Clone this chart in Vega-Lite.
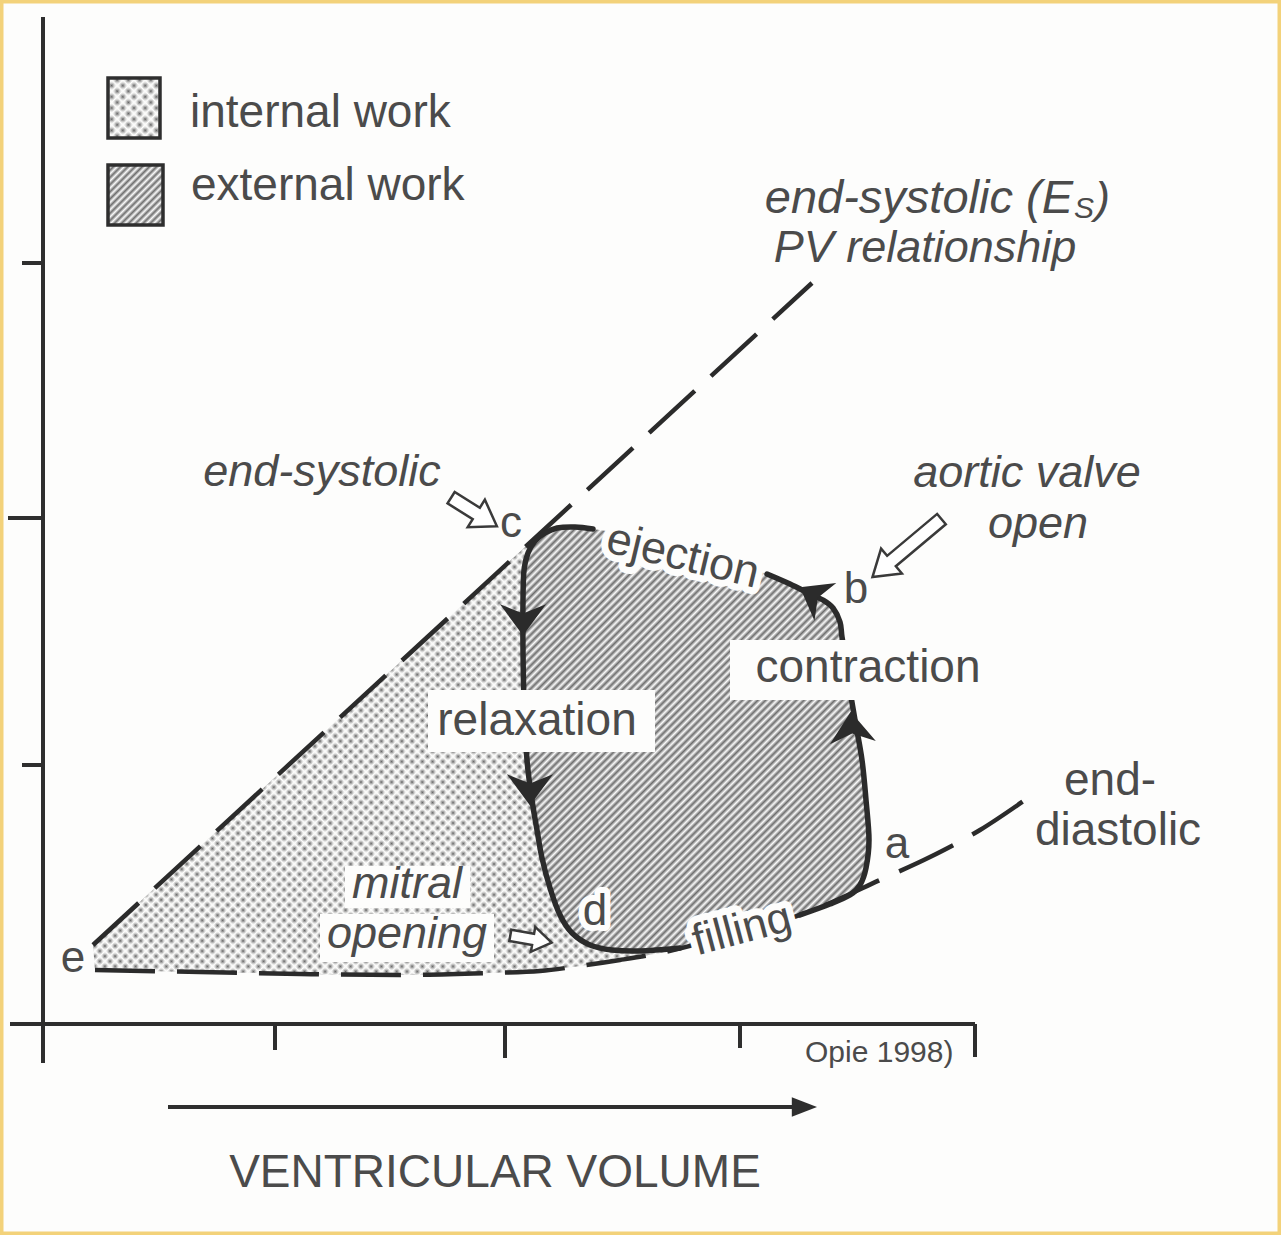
{
  "$schema": "https://vega.github.io/schema/vega-lite/v6.json",
  "width": 1281,
  "height": 1235,
  "padding": 0,
  "autosize": {"type": "none"},
  "background": "#fdfdfc",
  "config": {
    "view": {"stroke": "#f3d27a", "strokeWidth": 7},
    "text": {"font": "Liberation Sans", "color": "#4b4b4b"}
  },
  "datasets": {
    "internal": [
      {"i":0,"v":48,"p":80},{"i":1,"v":490,"p":487},{"i":2,"v":483,"p":472},{"i":3,"v":479,"p":455},{"i":4,"v":478,"p":425},{"i":5,"v":478,"p":375},{"i":6,"v":479,"p":325},{"i":7,"v":482,"p":265},{"i":8,"v":487,"p":225},{"i":9,"v":492,"p":195},{"i":10,"v":497,"p":167},{"i":11,"v":505,"p":137},{"i":12,"v":515,"p":110},{"i":13,"v":527,"p":92},{"i":14,"v":545,"p":80},{"i":15,"v":567,"p":75},{"i":16,"v":595,"p":74},{"i":17,"v":635,"p":77},{"i":18,"v":615,"p":72},{"i":19,"v":575,"p":65},{"i":20,"v":535,"p":59},{"i":21,"v":495,"p":54},{"i":22,"v":445,"p":52},{"i":23,"v":355,"p":50},{"i":24,"v":255,"p":51},{"i":25,"v":155,"p":53},{"i":26,"v":50,"p":55}
    ],
    "external": [
      {"i":0,"v":548,"p":496},{"i":1,"v":575,"p":492},{"i":2,"v":615,"p":482},{"i":3,"v":655,"p":470},{"i":4,"v":695,"p":459},{"i":5,"v":722,"p":451},{"i":6,"v":745,"p":441},{"i":7,"v":765,"p":431},{"i":8,"v":778,"p":425},{"i":9,"v":788,"p":417},{"i":10,"v":795,"p":403},{"i":11,"v":797,"p":388},{"i":12,"v":801,"p":365},{"i":13,"v":805,"p":335},{"i":14,"v":810,"p":305},{"i":15,"v":817,"p":265},{"i":16,"v":821,"p":225},{"i":17,"v":824,"p":185},{"i":18,"v":821,"p":157},{"i":19,"v":815,"p":140},{"i":20,"v":805,"p":130},{"i":21,"v":785,"p":121},{"i":22,"v":755,"p":110},{"i":23,"v":715,"p":97},{"i":24,"v":675,"p":87},{"i":25,"v":635,"p":77},{"i":26,"v":595,"p":74},{"i":27,"v":567,"p":75},{"i":28,"v":545,"p":80},{"i":29,"v":527,"p":92},{"i":30,"v":515,"p":110},{"i":31,"v":505,"p":137},{"i":32,"v":497,"p":167},{"i":33,"v":492,"p":195},{"i":34,"v":487,"p":225},{"i":35,"v":482,"p":265},{"i":36,"v":479,"p":325},{"i":37,"v":478,"p":375},{"i":38,"v":478,"p":425},{"i":39,"v":479,"p":455},{"i":40,"v":483,"p":472},{"i":41,"v":490,"p":484},{"i":42,"v":500,"p":492},{"i":43,"v":512,"p":497},{"i":44,"v":530,"p":498}
    ],
    "loop": [
      {"seg":"s1","i":0,"v":722,"p":451},{"seg":"s1","i":1,"v":745,"p":441},{"seg":"s1","i":2,"v":765,"p":431},{"seg":"s1","i":3,"v":778,"p":425},{"seg":"s1","i":4,"v":788,"p":417},{"seg":"s1","i":5,"v":795,"p":403},{"seg":"s1","i":6,"v":797,"p":388},{"seg":"s1","i":7,"v":801,"p":365},{"seg":"s1","i":8,"v":805,"p":335},{"seg":"s1","i":9,"v":810,"p":305},{"seg":"s1","i":10,"v":817,"p":265},{"seg":"s1","i":11,"v":821,"p":225},{"seg":"s1","i":12,"v":824,"p":185},{"seg":"s1","i":13,"v":821,"p":157},{"seg":"s1","i":14,"v":815,"p":140},{"seg":"s1","i":15,"v":805,"p":130},{"seg":"s1","i":16,"v":785,"p":121},{"seg":"s1","i":17,"v":755,"p":110},
      {"seg":"s2","i":20,"v":635,"p":77},{"seg":"s2","i":21,"v":595,"p":74},{"seg":"s2","i":22,"v":567,"p":75},{"seg":"s2","i":23,"v":545,"p":80},{"seg":"s2","i":24,"v":527,"p":92},{"seg":"s2","i":25,"v":515,"p":110},{"seg":"s2","i":26,"v":505,"p":137},{"seg":"s2","i":27,"v":497,"p":167},{"seg":"s2","i":28,"v":492,"p":195},{"seg":"s2","i":29,"v":487,"p":225},{"seg":"s2","i":30,"v":482,"p":265},{"seg":"s2","i":31,"v":479,"p":325},{"seg":"s2","i":32,"v":478,"p":375},{"seg":"s2","i":33,"v":478,"p":425},{"seg":"s2","i":34,"v":479,"p":455},{"seg":"s2","i":35,"v":483,"p":472},{"seg":"s2","i":36,"v":490,"p":484},{"seg":"s2","i":37,"v":500,"p":492},{"seg":"s2","i":38,"v":512,"p":497},{"seg":"s2","i":39,"v":530,"p":498},{"seg":"s2","i":40,"v":548,"p":496}
    ],
    "espvr": [{"v":48,"p":80},{"v":767,"p":742}],
    "edpvr": [
      {"v":50,"p":55},{"v":155,"p":53},{"v":255,"p":51},{"v":355,"p":50},{"v":445,"p":52},{"v":495,"p":54},{"v":535,"p":59},{"v":575,"p":65},{"v":615,"p":72},{"v":675,"p":87},{"v":735,"p":103},{"v":785,"p":122},{"v":835,"p":145},{"v":885,"p":168},{"v":935,"p":195},{"v":980,"p":225}
    ],
    "axes": [
      {"v":-2,"p":1008,"v2":-2,"p2":-38},
      {"v":-23,"p":762,"v2":-2,"p2":762},
      {"v":-37,"p":507,"v2":-2,"p2":507},
      {"v":-23,"p":260,"v2":-2,"p2":260},
      {"v":-35,"p":1,"v2":930,"p2":1},
      {"v":230,"p":1,"v2":230,"p2":-25},
      {"v":460,"p":1,"v2":460,"p2":-33},
      {"v":695,"p":1,"v2":695,"p2":-23},
      {"v":930,"p":1,"v2":930,"p2":-32},
      {"v":123,"p":-82,"v2":752,"p2":-82}
    ],
    "boxes": [
      {"v":383,"v2":610,"p":335,"p2":273},
      {"v":685,"v2":947,"p":385,"p2":325},
      {"v":300,"v2":425,"p":159,"p2":117},
      {"v":275,"v2":449,"p":111,"p2":63}
    ],
    "legDot": [{"v":63,"v2":115,"p":947,"p2":887}],
    "legHatch": [{"v":63,"v2":118,"p":860,"p2":800}],
    "arrDown": [{"v":478,"p":408},{"v":485,"p":238}],
    "arrUp": [{"v":807,"p":295}],
    "arrB": [{"v":770,"p":429}],
    "arrVol": [{"v":758,"p":-82}],
    "hES": [{"v":429,"p":513}],
    "hAV": [{"v":862,"p":477}],
    "hMO": [{"v":486,"p":86}],
    "tLegend": [{"t":"internal work","v":145,"p":898},{"t":"external work","v":146,"p":825}],
    "tUp": [{"t":"contraction","v":823,"p":343},{"t":"relaxation","v":492,"p":290},{"t":"end-","v":1065,"p":230},{"t":"diastolic","v":1073,"p":180},{"t":"VENTRICULAR VOLUME","v":450,"p":-162}],
    "tLetters": [{"t":"c","v":466,"p":488},{"t":"b","v":811,"p":422},{"t":"a","v":852,"p":167},{"t":"d","v":550,"p":100},{"t":"e","v":28,"p":53}],
    "tItal": [{"t":"PV relationship","v":880,"p":763},{"t":"end-systolic","v":277,"p":539},{"t":"aortic valve","v":982,"p":538},{"t":"open","v":993,"p":487},{"t":"mitral","v":362,"p":127},{"t":"opening","v":362,"p":77}],
    "tEs": [{"t":"end-systolic (E","v":1028,"p":812}],
    "tSub": [{"t":"S","v":1029,"p":807}],
    "tParen": [{"t":")","v":1050,"p":812}],
    "tEject": [{"t":"ejection","v":638,"p":469}],
    "tFill": [{"t":"filling","v":697,"p":95}],
    "tD": [{"t":"d","v":550,"p":100}],
    "tOpie": [{"t":"Opie 1998)","v":760,"p":-37}]
  },
  "encoding": {
    "x": {"field": "v", "type": "quantitative", "axis": null, "scale": {"domain": [-45, 1236], "nice": false, "zero": false}},
    "y": {"field": "p", "type": "quantitative", "axis": null, "scale": {"domain": [-210, 1025], "nice": false, "zero": false}}
  },
  "layer": [
    {"data": {"name": "internal"}, "mark": {"type": "line", "strokeOpacity": 0, "interpolate": "linear-closed", "fill": {"gradient": "linear", "x1": 0, "y1": 0, "x2": 1.1224, "y2": 0.8356, "stops": [
{"offset":0,"color":"rgba(100,100,100,1)"},{"offset":0.005,"color":"rgba(100,100,100,0)"},{"offset":0.01,"color":"rgba(100,100,100,1)"},{"offset":0.015,"color":"rgba(100,100,100,0)"},{"offset":0.02,"color":"rgba(100,100,100,1)"},{"offset":0.025,"color":"rgba(100,100,100,0)"},{"offset":0.03,"color":"rgba(100,100,100,1)"},{"offset":0.035,"color":"rgba(100,100,100,0)"},{"offset":0.04,"color":"rgba(100,100,100,1)"},{"offset":0.045,"color":"rgba(100,100,100,0)"},{"offset":0.05,"color":"rgba(100,100,100,1)"},{"offset":0.055,"color":"rgba(100,100,100,0)"},{"offset":0.06,"color":"rgba(100,100,100,1)"},{"offset":0.065,"color":"rgba(100,100,100,0)"},{"offset":0.07,"color":"rgba(100,100,100,1)"},{"offset":0.075,"color":"rgba(100,100,100,0)"},{"offset":0.08,"color":"rgba(100,100,100,1)"},{"offset":0.085,"color":"rgba(100,100,100,0)"},{"offset":0.09,"color":"rgba(100,100,100,1)"},{"offset":0.095,"color":"rgba(100,100,100,0)"},
{"offset":0.1,"color":"rgba(100,100,100,1)"},{"offset":0.105,"color":"rgba(100,100,100,0)"},{"offset":0.11,"color":"rgba(100,100,100,1)"},{"offset":0.115,"color":"rgba(100,100,100,0)"},{"offset":0.12,"color":"rgba(100,100,100,1)"},{"offset":0.125,"color":"rgba(100,100,100,0)"},{"offset":0.13,"color":"rgba(100,100,100,1)"},{"offset":0.135,"color":"rgba(100,100,100,0)"},{"offset":0.14,"color":"rgba(100,100,100,1)"},{"offset":0.145,"color":"rgba(100,100,100,0)"},{"offset":0.15,"color":"rgba(100,100,100,1)"},{"offset":0.155,"color":"rgba(100,100,100,0)"},{"offset":0.16,"color":"rgba(100,100,100,1)"},{"offset":0.165,"color":"rgba(100,100,100,0)"},{"offset":0.17,"color":"rgba(100,100,100,1)"},{"offset":0.175,"color":"rgba(100,100,100,0)"},{"offset":0.18,"color":"rgba(100,100,100,1)"},{"offset":0.185,"color":"rgba(100,100,100,0)"},{"offset":0.19,"color":"rgba(100,100,100,1)"},{"offset":0.195,"color":"rgba(100,100,100,0)"},
{"offset":0.2,"color":"rgba(100,100,100,1)"},{"offset":0.205,"color":"rgba(100,100,100,0)"},{"offset":0.21,"color":"rgba(100,100,100,1)"},{"offset":0.215,"color":"rgba(100,100,100,0)"},{"offset":0.22,"color":"rgba(100,100,100,1)"},{"offset":0.225,"color":"rgba(100,100,100,0)"},{"offset":0.23,"color":"rgba(100,100,100,1)"},{"offset":0.235,"color":"rgba(100,100,100,0)"},{"offset":0.24,"color":"rgba(100,100,100,1)"},{"offset":0.245,"color":"rgba(100,100,100,0)"},{"offset":0.25,"color":"rgba(100,100,100,1)"},{"offset":0.255,"color":"rgba(100,100,100,0)"},{"offset":0.26,"color":"rgba(100,100,100,1)"},{"offset":0.265,"color":"rgba(100,100,100,0)"},{"offset":0.27,"color":"rgba(100,100,100,1)"},{"offset":0.275,"color":"rgba(100,100,100,0)"},{"offset":0.28,"color":"rgba(100,100,100,1)"},{"offset":0.285,"color":"rgba(100,100,100,0)"},{"offset":0.29,"color":"rgba(100,100,100,1)"},{"offset":0.295,"color":"rgba(100,100,100,0)"},
{"offset":0.3,"color":"rgba(100,100,100,1)"},{"offset":0.305,"color":"rgba(100,100,100,0)"},{"offset":0.31,"color":"rgba(100,100,100,1)"},{"offset":0.315,"color":"rgba(100,100,100,0)"},{"offset":0.32,"color":"rgba(100,100,100,1)"},{"offset":0.325,"color":"rgba(100,100,100,0)"},{"offset":0.33,"color":"rgba(100,100,100,1)"},{"offset":0.335,"color":"rgba(100,100,100,0)"},{"offset":0.34,"color":"rgba(100,100,100,1)"},{"offset":0.345,"color":"rgba(100,100,100,0)"},{"offset":0.35,"color":"rgba(100,100,100,1)"},{"offset":0.355,"color":"rgba(100,100,100,0)"},{"offset":0.36,"color":"rgba(100,100,100,1)"},{"offset":0.365,"color":"rgba(100,100,100,0)"},{"offset":0.37,"color":"rgba(100,100,100,1)"},{"offset":0.375,"color":"rgba(100,100,100,0)"},{"offset":0.38,"color":"rgba(100,100,100,1)"},{"offset":0.385,"color":"rgba(100,100,100,0)"},{"offset":0.39,"color":"rgba(100,100,100,1)"},{"offset":0.395,"color":"rgba(100,100,100,0)"},
{"offset":0.4,"color":"rgba(100,100,100,1)"},{"offset":0.405,"color":"rgba(100,100,100,0)"},{"offset":0.41,"color":"rgba(100,100,100,1)"},{"offset":0.415,"color":"rgba(100,100,100,0)"},{"offset":0.42,"color":"rgba(100,100,100,1)"},{"offset":0.425,"color":"rgba(100,100,100,0)"},{"offset":0.43,"color":"rgba(100,100,100,1)"},{"offset":0.435,"color":"rgba(100,100,100,0)"},{"offset":0.44,"color":"rgba(100,100,100,1)"},{"offset":0.445,"color":"rgba(100,100,100,0)"},{"offset":0.45,"color":"rgba(100,100,100,1)"},{"offset":0.455,"color":"rgba(100,100,100,0)"},{"offset":0.46,"color":"rgba(100,100,100,1)"},{"offset":0.465,"color":"rgba(100,100,100,0)"},{"offset":0.47,"color":"rgba(100,100,100,1)"},{"offset":0.475,"color":"rgba(100,100,100,0)"},{"offset":0.48,"color":"rgba(100,100,100,1)"},{"offset":0.485,"color":"rgba(100,100,100,0)"},{"offset":0.49,"color":"rgba(100,100,100,1)"},{"offset":0.495,"color":"rgba(100,100,100,0)"},
{"offset":0.5,"color":"rgba(100,100,100,1)"},{"offset":0.505,"color":"rgba(100,100,100,0)"},{"offset":0.51,"color":"rgba(100,100,100,1)"},{"offset":0.515,"color":"rgba(100,100,100,0)"},{"offset":0.52,"color":"rgba(100,100,100,1)"},{"offset":0.525,"color":"rgba(100,100,100,0)"},{"offset":0.53,"color":"rgba(100,100,100,1)"},{"offset":0.535,"color":"rgba(100,100,100,0)"},{"offset":0.54,"color":"rgba(100,100,100,1)"},{"offset":0.545,"color":"rgba(100,100,100,0)"},{"offset":0.55,"color":"rgba(100,100,100,1)"},{"offset":0.555,"color":"rgba(100,100,100,0)"},{"offset":0.56,"color":"rgba(100,100,100,1)"},{"offset":0.565,"color":"rgba(100,100,100,0)"},{"offset":0.57,"color":"rgba(100,100,100,1)"},{"offset":0.575,"color":"rgba(100,100,100,0)"},{"offset":0.58,"color":"rgba(100,100,100,1)"},{"offset":0.585,"color":"rgba(100,100,100,0)"},{"offset":0.59,"color":"rgba(100,100,100,1)"},{"offset":0.595,"color":"rgba(100,100,100,0)"},
{"offset":0.6,"color":"rgba(100,100,100,1)"},{"offset":0.605,"color":"rgba(100,100,100,0)"},{"offset":0.61,"color":"rgba(100,100,100,1)"},{"offset":0.615,"color":"rgba(100,100,100,0)"},{"offset":0.62,"color":"rgba(100,100,100,1)"},{"offset":0.625,"color":"rgba(100,100,100,0)"},{"offset":0.63,"color":"rgba(100,100,100,1)"},{"offset":0.635,"color":"rgba(100,100,100,0)"},{"offset":0.64,"color":"rgba(100,100,100,1)"},{"offset":0.645,"color":"rgba(100,100,100,0)"},{"offset":0.65,"color":"rgba(100,100,100,1)"},{"offset":0.655,"color":"rgba(100,100,100,0)"},{"offset":0.66,"color":"rgba(100,100,100,1)"},{"offset":0.665,"color":"rgba(100,100,100,0)"},{"offset":0.67,"color":"rgba(100,100,100,1)"},{"offset":0.675,"color":"rgba(100,100,100,0)"},{"offset":0.68,"color":"rgba(100,100,100,1)"},{"offset":0.685,"color":"rgba(100,100,100,0)"},{"offset":0.69,"color":"rgba(100,100,100,1)"},{"offset":0.695,"color":"rgba(100,100,100,0)"},
{"offset":0.7,"color":"rgba(100,100,100,1)"},{"offset":0.705,"color":"rgba(100,100,100,0)"},{"offset":0.71,"color":"rgba(100,100,100,1)"},{"offset":0.715,"color":"rgba(100,100,100,0)"},{"offset":0.72,"color":"rgba(100,100,100,1)"},{"offset":0.725,"color":"rgba(100,100,100,0)"},{"offset":0.73,"color":"rgba(100,100,100,1)"},{"offset":0.735,"color":"rgba(100,100,100,0)"},{"offset":0.74,"color":"rgba(100,100,100,1)"},{"offset":0.745,"color":"rgba(100,100,100,0)"},{"offset":0.75,"color":"rgba(100,100,100,1)"},{"offset":0.755,"color":"rgba(100,100,100,0)"},{"offset":0.76,"color":"rgba(100,100,100,1)"},{"offset":0.765,"color":"rgba(100,100,100,0)"},{"offset":0.77,"color":"rgba(100,100,100,1)"},{"offset":0.775,"color":"rgba(100,100,100,0)"},{"offset":0.78,"color":"rgba(100,100,100,1)"},{"offset":0.785,"color":"rgba(100,100,100,0)"},{"offset":0.79,"color":"rgba(100,100,100,1)"},{"offset":0.795,"color":"rgba(100,100,100,0)"},
{"offset":0.8,"color":"rgba(100,100,100,1)"},{"offset":0.805,"color":"rgba(100,100,100,0)"},{"offset":0.81,"color":"rgba(100,100,100,1)"},{"offset":0.815,"color":"rgba(100,100,100,0)"},{"offset":0.82,"color":"rgba(100,100,100,1)"},{"offset":0.825,"color":"rgba(100,100,100,0)"},{"offset":0.83,"color":"rgba(100,100,100,1)"},{"offset":0.835,"color":"rgba(100,100,100,0)"},{"offset":0.84,"color":"rgba(100,100,100,1)"},{"offset":0.845,"color":"rgba(100,100,100,0)"},{"offset":0.85,"color":"rgba(100,100,100,1)"},{"offset":0.855,"color":"rgba(100,100,100,0)"},{"offset":0.86,"color":"rgba(100,100,100,1)"},{"offset":0.865,"color":"rgba(100,100,100,0)"},{"offset":0.87,"color":"rgba(100,100,100,1)"},{"offset":0.875,"color":"rgba(100,100,100,0)"},{"offset":0.88,"color":"rgba(100,100,100,1)"},{"offset":0.885,"color":"rgba(100,100,100,0)"},{"offset":0.89,"color":"rgba(100,100,100,1)"},{"offset":0.895,"color":"rgba(100,100,100,0)"},
{"offset":0.9,"color":"rgba(100,100,100,1)"},{"offset":0.905,"color":"rgba(100,100,100,0)"},{"offset":0.91,"color":"rgba(100,100,100,1)"},{"offset":0.915,"color":"rgba(100,100,100,0)"},{"offset":0.92,"color":"rgba(100,100,100,1)"},{"offset":0.925,"color":"rgba(100,100,100,0)"},{"offset":0.93,"color":"rgba(100,100,100,1)"},{"offset":0.935,"color":"rgba(100,100,100,0)"},{"offset":0.94,"color":"rgba(100,100,100,1)"},{"offset":0.945,"color":"rgba(100,100,100,0)"},{"offset":0.95,"color":"rgba(100,100,100,1)"},{"offset":0.955,"color":"rgba(100,100,100,0)"},{"offset":0.96,"color":"rgba(100,100,100,1)"},{"offset":0.965,"color":"rgba(100,100,100,0)"},{"offset":0.97,"color":"rgba(100,100,100,1)"},{"offset":0.975,"color":"rgba(100,100,100,0)"},{"offset":0.98,"color":"rgba(100,100,100,1)"},{"offset":0.985,"color":"rgba(100,100,100,0)"},{"offset":0.99,"color":"rgba(100,100,100,1)"},{"offset":0.995,"color":"rgba(100,100,100,0)"},{"offset":1,"color":"rgba(100,100,100,1)"}
    ]}}, "encoding": {"order": {"field": "i", "type": "quantitative"}}},
    {"data": {"name": "internal"}, "mark": {"type": "line", "strokeOpacity": 0, "interpolate": "linear-closed", "fill": {"gradient": "linear", "x1": 0, "y1": 1, "x2": 1.1224, "y2": 0.1644, "stops": [
{"offset":0,"color":"rgba(253,253,252,0)"},{"offset":0.005,"color":"#fdfdfc"},{"offset":0.01,"color":"rgba(253,253,252,0)"},{"offset":0.015,"color":"#fdfdfc"},{"offset":0.02,"color":"rgba(253,253,252,0)"},{"offset":0.025,"color":"#fdfdfc"},{"offset":0.03,"color":"rgba(253,253,252,0)"},{"offset":0.035,"color":"#fdfdfc"},{"offset":0.04,"color":"rgba(253,253,252,0)"},{"offset":0.045,"color":"#fdfdfc"},{"offset":0.05,"color":"rgba(253,253,252,0)"},{"offset":0.055,"color":"#fdfdfc"},{"offset":0.06,"color":"rgba(253,253,252,0)"},{"offset":0.065,"color":"#fdfdfc"},{"offset":0.07,"color":"rgba(253,253,252,0)"},{"offset":0.075,"color":"#fdfdfc"},{"offset":0.08,"color":"rgba(253,253,252,0)"},{"offset":0.085,"color":"#fdfdfc"},{"offset":0.09,"color":"rgba(253,253,252,0)"},{"offset":0.095,"color":"#fdfdfc"},
{"offset":0.1,"color":"rgba(253,253,252,0)"},{"offset":0.105,"color":"#fdfdfc"},{"offset":0.11,"color":"rgba(253,253,252,0)"},{"offset":0.115,"color":"#fdfdfc"},{"offset":0.12,"color":"rgba(253,253,252,0)"},{"offset":0.125,"color":"#fdfdfc"},{"offset":0.13,"color":"rgba(253,253,252,0)"},{"offset":0.135,"color":"#fdfdfc"},{"offset":0.14,"color":"rgba(253,253,252,0)"},{"offset":0.145,"color":"#fdfdfc"},{"offset":0.15,"color":"rgba(253,253,252,0)"},{"offset":0.155,"color":"#fdfdfc"},{"offset":0.16,"color":"rgba(253,253,252,0)"},{"offset":0.165,"color":"#fdfdfc"},{"offset":0.17,"color":"rgba(253,253,252,0)"},{"offset":0.175,"color":"#fdfdfc"},{"offset":0.18,"color":"rgba(253,253,252,0)"},{"offset":0.185,"color":"#fdfdfc"},{"offset":0.19,"color":"rgba(253,253,252,0)"},{"offset":0.195,"color":"#fdfdfc"},
{"offset":0.2,"color":"rgba(253,253,252,0)"},{"offset":0.205,"color":"#fdfdfc"},{"offset":0.21,"color":"rgba(253,253,252,0)"},{"offset":0.215,"color":"#fdfdfc"},{"offset":0.22,"color":"rgba(253,253,252,0)"},{"offset":0.225,"color":"#fdfdfc"},{"offset":0.23,"color":"rgba(253,253,252,0)"},{"offset":0.235,"color":"#fdfdfc"},{"offset":0.24,"color":"rgba(253,253,252,0)"},{"offset":0.245,"color":"#fdfdfc"},{"offset":0.25,"color":"rgba(253,253,252,0)"},{"offset":0.255,"color":"#fdfdfc"},{"offset":0.26,"color":"rgba(253,253,252,0)"},{"offset":0.265,"color":"#fdfdfc"},{"offset":0.27,"color":"rgba(253,253,252,0)"},{"offset":0.275,"color":"#fdfdfc"},{"offset":0.28,"color":"rgba(253,253,252,0)"},{"offset":0.285,"color":"#fdfdfc"},{"offset":0.29,"color":"rgba(253,253,252,0)"},{"offset":0.295,"color":"#fdfdfc"},
{"offset":0.3,"color":"rgba(253,253,252,0)"},{"offset":0.305,"color":"#fdfdfc"},{"offset":0.31,"color":"rgba(253,253,252,0)"},{"offset":0.315,"color":"#fdfdfc"},{"offset":0.32,"color":"rgba(253,253,252,0)"},{"offset":0.325,"color":"#fdfdfc"},{"offset":0.33,"color":"rgba(253,253,252,0)"},{"offset":0.335,"color":"#fdfdfc"},{"offset":0.34,"color":"rgba(253,253,252,0)"},{"offset":0.345,"color":"#fdfdfc"},{"offset":0.35,"color":"rgba(253,253,252,0)"},{"offset":0.355,"color":"#fdfdfc"},{"offset":0.36,"color":"rgba(253,253,252,0)"},{"offset":0.365,"color":"#fdfdfc"},{"offset":0.37,"color":"rgba(253,253,252,0)"},{"offset":0.375,"color":"#fdfdfc"},{"offset":0.38,"color":"rgba(253,253,252,0)"},{"offset":0.385,"color":"#fdfdfc"},{"offset":0.39,"color":"rgba(253,253,252,0)"},{"offset":0.395,"color":"#fdfdfc"},
{"offset":0.4,"color":"rgba(253,253,252,0)"},{"offset":0.405,"color":"#fdfdfc"},{"offset":0.41,"color":"rgba(253,253,252,0)"},{"offset":0.415,"color":"#fdfdfc"},{"offset":0.42,"color":"rgba(253,253,252,0)"},{"offset":0.425,"color":"#fdfdfc"},{"offset":0.43,"color":"rgba(253,253,252,0)"},{"offset":0.435,"color":"#fdfdfc"},{"offset":0.44,"color":"rgba(253,253,252,0)"},{"offset":0.445,"color":"#fdfdfc"},{"offset":0.45,"color":"rgba(253,253,252,0)"},{"offset":0.455,"color":"#fdfdfc"},{"offset":0.46,"color":"rgba(253,253,252,0)"},{"offset":0.465,"color":"#fdfdfc"},{"offset":0.47,"color":"rgba(253,253,252,0)"},{"offset":0.475,"color":"#fdfdfc"},{"offset":0.48,"color":"rgba(253,253,252,0)"},{"offset":0.485,"color":"#fdfdfc"},{"offset":0.49,"color":"rgba(253,253,252,0)"},{"offset":0.495,"color":"#fdfdfc"},
{"offset":0.5,"color":"rgba(253,253,252,0)"},{"offset":0.505,"color":"#fdfdfc"},{"offset":0.51,"color":"rgba(253,253,252,0)"},{"offset":0.515,"color":"#fdfdfc"},{"offset":0.52,"color":"rgba(253,253,252,0)"},{"offset":0.525,"color":"#fdfdfc"},{"offset":0.53,"color":"rgba(253,253,252,0)"},{"offset":0.535,"color":"#fdfdfc"},{"offset":0.54,"color":"rgba(253,253,252,0)"},{"offset":0.545,"color":"#fdfdfc"},{"offset":0.55,"color":"rgba(253,253,252,0)"},{"offset":0.555,"color":"#fdfdfc"},{"offset":0.56,"color":"rgba(253,253,252,0)"},{"offset":0.565,"color":"#fdfdfc"},{"offset":0.57,"color":"rgba(253,253,252,0)"},{"offset":0.575,"color":"#fdfdfc"},{"offset":0.58,"color":"rgba(253,253,252,0)"},{"offset":0.585,"color":"#fdfdfc"},{"offset":0.59,"color":"rgba(253,253,252,0)"},{"offset":0.595,"color":"#fdfdfc"},
{"offset":0.6,"color":"rgba(253,253,252,0)"},{"offset":0.605,"color":"#fdfdfc"},{"offset":0.61,"color":"rgba(253,253,252,0)"},{"offset":0.615,"color":"#fdfdfc"},{"offset":0.62,"color":"rgba(253,253,252,0)"},{"offset":0.625,"color":"#fdfdfc"},{"offset":0.63,"color":"rgba(253,253,252,0)"},{"offset":0.635,"color":"#fdfdfc"},{"offset":0.64,"color":"rgba(253,253,252,0)"},{"offset":0.645,"color":"#fdfdfc"},{"offset":0.65,"color":"rgba(253,253,252,0)"},{"offset":0.655,"color":"#fdfdfc"},{"offset":0.66,"color":"rgba(253,253,252,0)"},{"offset":0.665,"color":"#fdfdfc"},{"offset":0.67,"color":"rgba(253,253,252,0)"},{"offset":0.675,"color":"#fdfdfc"},{"offset":0.68,"color":"rgba(253,253,252,0)"},{"offset":0.685,"color":"#fdfdfc"},{"offset":0.69,"color":"rgba(253,253,252,0)"},{"offset":0.695,"color":"#fdfdfc"},
{"offset":0.7,"color":"rgba(253,253,252,0)"},{"offset":0.705,"color":"#fdfdfc"},{"offset":0.71,"color":"rgba(253,253,252,0)"},{"offset":0.715,"color":"#fdfdfc"},{"offset":0.72,"color":"rgba(253,253,252,0)"},{"offset":0.725,"color":"#fdfdfc"},{"offset":0.73,"color":"rgba(253,253,252,0)"},{"offset":0.735,"color":"#fdfdfc"},{"offset":0.74,"color":"rgba(253,253,252,0)"},{"offset":0.745,"color":"#fdfdfc"},{"offset":0.75,"color":"rgba(253,253,252,0)"},{"offset":0.755,"color":"#fdfdfc"},{"offset":0.76,"color":"rgba(253,253,252,0)"},{"offset":0.765,"color":"#fdfdfc"},{"offset":0.77,"color":"rgba(253,253,252,0)"},{"offset":0.775,"color":"#fdfdfc"},{"offset":0.78,"color":"rgba(253,253,252,0)"},{"offset":0.785,"color":"#fdfdfc"},{"offset":0.79,"color":"rgba(253,253,252,0)"},{"offset":0.795,"color":"#fdfdfc"},
{"offset":0.8,"color":"rgba(253,253,252,0)"},{"offset":0.805,"color":"#fdfdfc"},{"offset":0.81,"color":"rgba(253,253,252,0)"},{"offset":0.815,"color":"#fdfdfc"},{"offset":0.82,"color":"rgba(253,253,252,0)"},{"offset":0.825,"color":"#fdfdfc"},{"offset":0.83,"color":"rgba(253,253,252,0)"},{"offset":0.835,"color":"#fdfdfc"},{"offset":0.84,"color":"rgba(253,253,252,0)"},{"offset":0.845,"color":"#fdfdfc"},{"offset":0.85,"color":"rgba(253,253,252,0)"},{"offset":0.855,"color":"#fdfdfc"},{"offset":0.86,"color":"rgba(253,253,252,0)"},{"offset":0.865,"color":"#fdfdfc"},{"offset":0.87,"color":"rgba(253,253,252,0)"},{"offset":0.875,"color":"#fdfdfc"},{"offset":0.88,"color":"rgba(253,253,252,0)"},{"offset":0.885,"color":"#fdfdfc"},{"offset":0.89,"color":"rgba(253,253,252,0)"},{"offset":0.895,"color":"#fdfdfc"},
{"offset":0.9,"color":"rgba(253,253,252,0)"},{"offset":0.905,"color":"#fdfdfc"},{"offset":0.91,"color":"rgba(253,253,252,0)"},{"offset":0.915,"color":"#fdfdfc"},{"offset":0.92,"color":"rgba(253,253,252,0)"},{"offset":0.925,"color":"#fdfdfc"},{"offset":0.93,"color":"rgba(253,253,252,0)"},{"offset":0.935,"color":"#fdfdfc"},{"offset":0.94,"color":"rgba(253,253,252,0)"},{"offset":0.945,"color":"#fdfdfc"},{"offset":0.95,"color":"rgba(253,253,252,0)"},{"offset":0.955,"color":"#fdfdfc"},{"offset":0.96,"color":"rgba(253,253,252,0)"},{"offset":0.965,"color":"#fdfdfc"},{"offset":0.97,"color":"rgba(253,253,252,0)"},{"offset":0.975,"color":"#fdfdfc"},{"offset":0.98,"color":"rgba(253,253,252,0)"},{"offset":0.985,"color":"#fdfdfc"},{"offset":0.99,"color":"rgba(253,253,252,0)"},{"offset":0.995,"color":"#fdfdfc"},{"offset":1,"color":"rgba(253,253,252,0)"}
    ]}}, "encoding": {"order": {"field": "i", "type": "quantitative"}}},
    {"data": {"name": "external"}, "mark": {"type": "line", "strokeOpacity": 0, "interpolate": "linear-closed", "fill": {"gradient": "linear", "x1": 0, "y1": 0, "x2": 0.8896, "y2": 1.0901, "stops": [
{"offset":0,"color":"#6e6e6e"},{"offset":0.005,"color":"#fafafa"},{"offset":0.01,"color":"#6e6e6e"},{"offset":0.015,"color":"#fafafa"},{"offset":0.02,"color":"#6e6e6e"},{"offset":0.025,"color":"#fafafa"},{"offset":0.03,"color":"#6e6e6e"},{"offset":0.035,"color":"#fafafa"},{"offset":0.04,"color":"#6e6e6e"},{"offset":0.045,"color":"#fafafa"},{"offset":0.05,"color":"#6e6e6e"},{"offset":0.055,"color":"#fafafa"},{"offset":0.06,"color":"#6e6e6e"},{"offset":0.065,"color":"#fafafa"},{"offset":0.07,"color":"#6e6e6e"},{"offset":0.075,"color":"#fafafa"},{"offset":0.08,"color":"#6e6e6e"},{"offset":0.085,"color":"#fafafa"},{"offset":0.09,"color":"#6e6e6e"},{"offset":0.095,"color":"#fafafa"},
{"offset":0.1,"color":"#6e6e6e"},{"offset":0.105,"color":"#fafafa"},{"offset":0.11,"color":"#6e6e6e"},{"offset":0.115,"color":"#fafafa"},{"offset":0.12,"color":"#6e6e6e"},{"offset":0.125,"color":"#fafafa"},{"offset":0.13,"color":"#6e6e6e"},{"offset":0.135,"color":"#fafafa"},{"offset":0.14,"color":"#6e6e6e"},{"offset":0.145,"color":"#fafafa"},{"offset":0.15,"color":"#6e6e6e"},{"offset":0.155,"color":"#fafafa"},{"offset":0.16,"color":"#6e6e6e"},{"offset":0.165,"color":"#fafafa"},{"offset":0.17,"color":"#6e6e6e"},{"offset":0.175,"color":"#fafafa"},{"offset":0.18,"color":"#6e6e6e"},{"offset":0.185,"color":"#fafafa"},{"offset":0.19,"color":"#6e6e6e"},{"offset":0.195,"color":"#fafafa"},
{"offset":0.2,"color":"#6e6e6e"},{"offset":0.205,"color":"#fafafa"},{"offset":0.21,"color":"#6e6e6e"},{"offset":0.215,"color":"#fafafa"},{"offset":0.22,"color":"#6e6e6e"},{"offset":0.225,"color":"#fafafa"},{"offset":0.23,"color":"#6e6e6e"},{"offset":0.235,"color":"#fafafa"},{"offset":0.24,"color":"#6e6e6e"},{"offset":0.245,"color":"#fafafa"},{"offset":0.25,"color":"#6e6e6e"},{"offset":0.255,"color":"#fafafa"},{"offset":0.26,"color":"#6e6e6e"},{"offset":0.265,"color":"#fafafa"},{"offset":0.27,"color":"#6e6e6e"},{"offset":0.275,"color":"#fafafa"},{"offset":0.28,"color":"#6e6e6e"},{"offset":0.285,"color":"#fafafa"},{"offset":0.29,"color":"#6e6e6e"},{"offset":0.295,"color":"#fafafa"},
{"offset":0.3,"color":"#6e6e6e"},{"offset":0.305,"color":"#fafafa"},{"offset":0.31,"color":"#6e6e6e"},{"offset":0.315,"color":"#fafafa"},{"offset":0.32,"color":"#6e6e6e"},{"offset":0.325,"color":"#fafafa"},{"offset":0.33,"color":"#6e6e6e"},{"offset":0.335,"color":"#fafafa"},{"offset":0.34,"color":"#6e6e6e"},{"offset":0.345,"color":"#fafafa"},{"offset":0.35,"color":"#6e6e6e"},{"offset":0.355,"color":"#fafafa"},{"offset":0.36,"color":"#6e6e6e"},{"offset":0.365,"color":"#fafafa"},{"offset":0.37,"color":"#6e6e6e"},{"offset":0.375,"color":"#fafafa"},{"offset":0.38,"color":"#6e6e6e"},{"offset":0.385,"color":"#fafafa"},{"offset":0.39,"color":"#6e6e6e"},{"offset":0.395,"color":"#fafafa"},
{"offset":0.4,"color":"#6e6e6e"},{"offset":0.405,"color":"#fafafa"},{"offset":0.41,"color":"#6e6e6e"},{"offset":0.415,"color":"#fafafa"},{"offset":0.42,"color":"#6e6e6e"},{"offset":0.425,"color":"#fafafa"},{"offset":0.43,"color":"#6e6e6e"},{"offset":0.435,"color":"#fafafa"},{"offset":0.44,"color":"#6e6e6e"},{"offset":0.445,"color":"#fafafa"},{"offset":0.45,"color":"#6e6e6e"},{"offset":0.455,"color":"#fafafa"},{"offset":0.46,"color":"#6e6e6e"},{"offset":0.465,"color":"#fafafa"},{"offset":0.47,"color":"#6e6e6e"},{"offset":0.475,"color":"#fafafa"},{"offset":0.48,"color":"#6e6e6e"},{"offset":0.485,"color":"#fafafa"},{"offset":0.49,"color":"#6e6e6e"},{"offset":0.495,"color":"#fafafa"},
{"offset":0.5,"color":"#6e6e6e"},{"offset":0.505,"color":"#fafafa"},{"offset":0.51,"color":"#6e6e6e"},{"offset":0.515,"color":"#fafafa"},{"offset":0.52,"color":"#6e6e6e"},{"offset":0.525,"color":"#fafafa"},{"offset":0.53,"color":"#6e6e6e"},{"offset":0.535,"color":"#fafafa"},{"offset":0.54,"color":"#6e6e6e"},{"offset":0.545,"color":"#fafafa"},{"offset":0.55,"color":"#6e6e6e"},{"offset":0.555,"color":"#fafafa"},{"offset":0.56,"color":"#6e6e6e"},{"offset":0.565,"color":"#fafafa"},{"offset":0.57,"color":"#6e6e6e"},{"offset":0.575,"color":"#fafafa"},{"offset":0.58,"color":"#6e6e6e"},{"offset":0.585,"color":"#fafafa"},{"offset":0.59,"color":"#6e6e6e"},{"offset":0.595,"color":"#fafafa"},
{"offset":0.6,"color":"#6e6e6e"},{"offset":0.605,"color":"#fafafa"},{"offset":0.61,"color":"#6e6e6e"},{"offset":0.615,"color":"#fafafa"},{"offset":0.62,"color":"#6e6e6e"},{"offset":0.625,"color":"#fafafa"},{"offset":0.63,"color":"#6e6e6e"},{"offset":0.635,"color":"#fafafa"},{"offset":0.64,"color":"#6e6e6e"},{"offset":0.645,"color":"#fafafa"},{"offset":0.65,"color":"#6e6e6e"},{"offset":0.655,"color":"#fafafa"},{"offset":0.66,"color":"#6e6e6e"},{"offset":0.665,"color":"#fafafa"},{"offset":0.67,"color":"#6e6e6e"},{"offset":0.675,"color":"#fafafa"},{"offset":0.68,"color":"#6e6e6e"},{"offset":0.685,"color":"#fafafa"},{"offset":0.69,"color":"#6e6e6e"},{"offset":0.695,"color":"#fafafa"},
{"offset":0.7,"color":"#6e6e6e"},{"offset":0.705,"color":"#fafafa"},{"offset":0.71,"color":"#6e6e6e"},{"offset":0.715,"color":"#fafafa"},{"offset":0.72,"color":"#6e6e6e"},{"offset":0.725,"color":"#fafafa"},{"offset":0.73,"color":"#6e6e6e"},{"offset":0.735,"color":"#fafafa"},{"offset":0.74,"color":"#6e6e6e"},{"offset":0.745,"color":"#fafafa"},{"offset":0.75,"color":"#6e6e6e"},{"offset":0.755,"color":"#fafafa"},{"offset":0.76,"color":"#6e6e6e"},{"offset":0.765,"color":"#fafafa"},{"offset":0.77,"color":"#6e6e6e"},{"offset":0.775,"color":"#fafafa"},{"offset":0.78,"color":"#6e6e6e"},{"offset":0.785,"color":"#fafafa"},{"offset":0.79,"color":"#6e6e6e"},{"offset":0.795,"color":"#fafafa"},
{"offset":0.8,"color":"#6e6e6e"},{"offset":0.805,"color":"#fafafa"},{"offset":0.81,"color":"#6e6e6e"},{"offset":0.815,"color":"#fafafa"},{"offset":0.82,"color":"#6e6e6e"},{"offset":0.825,"color":"#fafafa"},{"offset":0.83,"color":"#6e6e6e"},{"offset":0.835,"color":"#fafafa"},{"offset":0.84,"color":"#6e6e6e"},{"offset":0.845,"color":"#fafafa"},{"offset":0.85,"color":"#6e6e6e"},{"offset":0.855,"color":"#fafafa"},{"offset":0.86,"color":"#6e6e6e"},{"offset":0.865,"color":"#fafafa"},{"offset":0.87,"color":"#6e6e6e"},{"offset":0.875,"color":"#fafafa"},{"offset":0.88,"color":"#6e6e6e"},{"offset":0.885,"color":"#fafafa"},{"offset":0.89,"color":"#6e6e6e"},{"offset":0.895,"color":"#fafafa"},
{"offset":0.9,"color":"#6e6e6e"},{"offset":0.905,"color":"#fafafa"},{"offset":0.91,"color":"#6e6e6e"},{"offset":0.915,"color":"#fafafa"},{"offset":0.92,"color":"#6e6e6e"},{"offset":0.925,"color":"#fafafa"},{"offset":0.93,"color":"#6e6e6e"},{"offset":0.935,"color":"#fafafa"},{"offset":0.94,"color":"#6e6e6e"},{"offset":0.945,"color":"#fafafa"},{"offset":0.95,"color":"#6e6e6e"},{"offset":0.955,"color":"#fafafa"},{"offset":0.96,"color":"#6e6e6e"},{"offset":0.965,"color":"#fafafa"},{"offset":0.97,"color":"#6e6e6e"},{"offset":0.975,"color":"#fafafa"},{"offset":0.98,"color":"#6e6e6e"},{"offset":0.985,"color":"#fafafa"},{"offset":0.99,"color":"#6e6e6e"},{"offset":0.995,"color":"#fafafa"},{"offset":1,"color":"#6e6e6e"}
    ]}}, "encoding": {"order": {"field": "i", "type": "quantitative"}}},
    {"data": {"name": "espvr"}, "mark": {"type": "line", "color": "#2b2b2b", "strokeWidth": 4.5, "strokeDash": [62, 22]}},
    {"data": {"name": "edpvr"}, "mark": {"type": "line", "color": "#2b2b2b", "strokeWidth": 4.5, "strokeDash": [60, 22], "interpolate": "monotone"}},
    {"data": {"name": "loop"}, "mark": {"type": "line", "color": "#2b2b2b", "strokeWidth": 5.5, "interpolate": "cardinal", "strokeCap": "round"}, "encoding": {"detail": {"field": "seg"}, "order": {"field": "i", "type": "quantitative"}}},
    {"data": {"name": "boxes"}, "mark": {"type": "rect", "color": "#fdfdfc"}, "encoding": {"x2": {"field": "v2"}, "y2": {"field": "p2"}}},
    {"data": {"name": "axes"}, "mark": {"type": "rule", "color": "#2e2e2e", "strokeWidth": 4}, "encoding": {"x2": {"field": "v2"}, "y2": {"field": "p2"}}},
    {"data": {"name": "legDot"}, "mark": {"type": "rect", "fill": {"gradient": "linear", "x1": 0, "y1": 0, "x2": 0.924, "y2": 1.066, "stops": [
{"offset":0,"color":"rgba(100,100,100,1)"},{"offset":0.05,"color":"rgba(100,100,100,0)"},{"offset":0.1,"color":"rgba(100,100,100,1)"},{"offset":0.15,"color":"rgba(100,100,100,0)"},{"offset":0.2,"color":"rgba(100,100,100,1)"},{"offset":0.25,"color":"rgba(100,100,100,0)"},{"offset":0.3,"color":"rgba(100,100,100,1)"},{"offset":0.35,"color":"rgba(100,100,100,0)"},{"offset":0.4,"color":"rgba(100,100,100,1)"},{"offset":0.45,"color":"rgba(100,100,100,0)"},{"offset":0.5,"color":"rgba(100,100,100,1)"},{"offset":0.55,"color":"rgba(100,100,100,0)"},{"offset":0.6,"color":"rgba(100,100,100,1)"},{"offset":0.65,"color":"rgba(100,100,100,0)"},{"offset":0.7,"color":"rgba(100,100,100,1)"},{"offset":0.75,"color":"rgba(100,100,100,0)"},{"offset":0.8,"color":"rgba(100,100,100,1)"},{"offset":0.85,"color":"rgba(100,100,100,0)"},{"offset":0.9,"color":"rgba(100,100,100,1)"},{"offset":0.95,"color":"rgba(100,100,100,0)"},{"offset":1,"color":"rgba(100,100,100,1)"}
    ]}}, "encoding": {"x2": {"field": "v2"}, "y2": {"field": "p2"}}},
    {"data": {"name": "legDot"}, "mark": {"type": "rect", "stroke": "#2e2e2e", "strokeWidth": 3.5, "fill": {"gradient": "linear", "x1": 0, "y1": 1, "x2": 0.924, "y2": -0.066, "stops": [
{"offset":0,"color":"rgba(253,253,252,0)"},{"offset":0.05,"color":"#fdfdfc"},{"offset":0.1,"color":"rgba(253,253,252,0)"},{"offset":0.15,"color":"#fdfdfc"},{"offset":0.2,"color":"rgba(253,253,252,0)"},{"offset":0.25,"color":"#fdfdfc"},{"offset":0.3,"color":"rgba(253,253,252,0)"},{"offset":0.35,"color":"#fdfdfc"},{"offset":0.4,"color":"rgba(253,253,252,0)"},{"offset":0.45,"color":"#fdfdfc"},{"offset":0.5,"color":"rgba(253,253,252,0)"},{"offset":0.55,"color":"#fdfdfc"},{"offset":0.6,"color":"rgba(253,253,252,0)"},{"offset":0.65,"color":"#fdfdfc"},{"offset":0.7,"color":"rgba(253,253,252,0)"},{"offset":0.75,"color":"#fdfdfc"},{"offset":0.8,"color":"rgba(253,253,252,0)"},{"offset":0.85,"color":"#fdfdfc"},{"offset":0.9,"color":"rgba(253,253,252,0)"},{"offset":0.95,"color":"#fdfdfc"},{"offset":1,"color":"rgba(253,253,252,0)"}
    ]}}, "encoding": {"x2": {"field": "v2"}, "y2": {"field": "p2"}}},
    {"data": {"name": "legHatch"}, "mark": {"type": "rect", "stroke": "#2e2e2e", "strokeWidth": 3.5, "fill": {"gradient": "linear", "x1": 0, "y1": 0, "x2": 0.9547, "y2": 1.0415, "stops": [
{"offset":0,"color":"#6e6e6e"},{"offset":0.03125,"color":"#fafafa"},{"offset":0.0625,"color":"#6e6e6e"},{"offset":0.09375,"color":"#fafafa"},{"offset":0.125,"color":"#6e6e6e"},{"offset":0.15625,"color":"#fafafa"},{"offset":0.1875,"color":"#6e6e6e"},{"offset":0.21875,"color":"#fafafa"},{"offset":0.25,"color":"#6e6e6e"},{"offset":0.28125,"color":"#fafafa"},{"offset":0.3125,"color":"#6e6e6e"},{"offset":0.34375,"color":"#fafafa"},{"offset":0.375,"color":"#6e6e6e"},{"offset":0.40625,"color":"#fafafa"},{"offset":0.4375,"color":"#6e6e6e"},{"offset":0.46875,"color":"#fafafa"},{"offset":0.5,"color":"#6e6e6e"},{"offset":0.53125,"color":"#fafafa"},{"offset":0.5625,"color":"#6e6e6e"},{"offset":0.59375,"color":"#fafafa"},{"offset":0.625,"color":"#6e6e6e"},{"offset":0.65625,"color":"#fafafa"},{"offset":0.6875,"color":"#6e6e6e"},{"offset":0.71875,"color":"#fafafa"},{"offset":0.75,"color":"#6e6e6e"},{"offset":0.78125,"color":"#fafafa"},{"offset":0.8125,"color":"#6e6e6e"},{"offset":0.84375,"color":"#fafafa"},{"offset":0.875,"color":"#6e6e6e"},{"offset":0.90625,"color":"#fafafa"},{"offset":0.9375,"color":"#6e6e6e"},{"offset":0.96875,"color":"#fafafa"},{"offset":1,"color":"#6e6e6e"}
    ]}}, "encoding": {"x2": {"field": "v2"}, "y2": {"field": "p2"}}},
    {"data": {"name": "arrDown"}, "mark": {"type": "point", "filled": true, "color": "#2b2b2b", "opacity": 1, "shape": "M0,-0.8L1,0.55L0,0.15L-1,0.55Z", "size": 2116, "angle": 180}},
    {"data": {"name": "arrUp"}, "mark": {"type": "point", "filled": true, "color": "#2b2b2b", "opacity": 1, "shape": "M0,-0.8L1,0.55L0,0.15L-1,0.55Z", "size": 2116, "angle": -4}},
    {"data": {"name": "arrB"}, "mark": {"type": "point", "filled": true, "color": "#2b2b2b", "opacity": 1, "shape": "M0,-0.8L1,0.55L0,0.15L-1,0.55Z", "size": 1900, "angle": -60}},
    {"data": {"name": "arrVol"}, "mark": {"type": "point", "filled": true, "color": "#2e2e2e", "opacity": 1, "shape": "M0,-1L0.7,0.8L-0.7,0.8Z", "size": 784, "angle": 90}},
    {"data": {"name": "hES"}, "mark": {"type": "point", "filled": true, "fill": "#ffffff", "stroke": "#3a3a3a", "strokeWidth": 2.5, "opacity": 1, "shape": "M0,-1L0.6,-0.1L0.25,-0.1L0.25,1L-0.25,1L-0.25,-0.1L-0.6,-0.1Z", "size": 2916, "angle": 122}},
    {"data": {"name": "hAV"}, "mark": {"type": "point", "filled": true, "fill": "#ffffff", "stroke": "#3a3a3a", "strokeWidth": 2.5, "opacity": 1, "shape": "M0,-1L0.36,-0.45L0.15,-0.45L0.15,1L-0.15,1L-0.15,-0.45L-0.36,-0.45Z", "size": 8100, "angle": -130}},
    {"data": {"name": "hMO"}, "mark": {"type": "point", "filled": true, "fill": "#ffffff", "stroke": "#3a3a3a", "strokeWidth": 2.5, "opacity": 1, "shape": "M0,-1L0.6,-0.1L0.27,-0.1L0.27,1L-0.27,1L-0.27,-0.1L-0.6,-0.1Z", "size": 1764, "angle": 100}},
    {"data": {"name": "tEject"}, "mark": {"type": "text", "fontSize": 45, "align": "center", "baseline": "middle", "angle": 13.5, "color": "#fdfdfc", "stroke": "#fdfdfc", "strokeWidth": 14, "strokeJoin": "round"}, "encoding": {"text": {"field": "t"}}},
    {"data": {"name": "tFill"}, "mark": {"type": "text", "fontSize": 44, "align": "center", "baseline": "middle", "angle": -15, "color": "#fdfdfc", "stroke": "#fdfdfc", "strokeWidth": 14, "strokeJoin": "round"}, "encoding": {"text": {"field": "t"}}},
    {"data": {"name": "tD"}, "mark": {"type": "text", "fontSize": 44, "align": "center", "baseline": "alphabetic", "color": "#fdfdfc", "stroke": "#fdfdfc", "strokeWidth": 12, "strokeJoin": "round"}, "encoding": {"text": {"field": "t"}}},
    {"data": {"name": "tEject"}, "mark": {"type": "text", "fontSize": 45, "align": "center", "baseline": "middle", "angle": 13.5}, "encoding": {"text": {"field": "t"}}},
    {"data": {"name": "tFill"}, "mark": {"type": "text", "fontSize": 44, "align": "center", "baseline": "middle", "angle": -15}, "encoding": {"text": {"field": "t"}}},
    {"data": {"name": "tLegend"}, "mark": {"type": "text", "fontSize": 46, "align": "left", "baseline": "alphabetic"}, "encoding": {"text": {"field": "t"}}},
    {"data": {"name": "tUp"}, "mark": {"type": "text", "fontSize": 46, "align": "center", "baseline": "alphabetic"}, "encoding": {"text": {"field": "t"}}},
    {"data": {"name": "tLetters"}, "mark": {"type": "text", "fontSize": 44, "align": "center", "baseline": "alphabetic"}, "encoding": {"text": {"field": "t"}}},
    {"data": {"name": "tItal"}, "mark": {"type": "text", "fontSize": 45, "fontStyle": "italic", "align": "center", "baseline": "alphabetic"}, "encoding": {"text": {"field": "t"}}},
    {"data": {"name": "tEs"}, "mark": {"type": "text", "fontSize": 47, "fontStyle": "italic", "align": "right", "baseline": "alphabetic"}, "encoding": {"text": {"field": "t"}}},
    {"data": {"name": "tSub"}, "mark": {"type": "text", "fontSize": 30, "fontStyle": "italic", "align": "left", "baseline": "alphabetic"}, "encoding": {"text": {"field": "t"}}},
    {"data": {"name": "tParen"}, "mark": {"type": "text", "fontSize": 45, "fontStyle": "italic", "align": "left", "baseline": "alphabetic"}, "encoding": {"text": {"field": "t"}}},
    {"data": {"name": "tOpie"}, "mark": {"type": "text", "fontSize": 30, "align": "left", "baseline": "alphabetic"}, "encoding": {"text": {"field": "t"}}}
  ]
}
